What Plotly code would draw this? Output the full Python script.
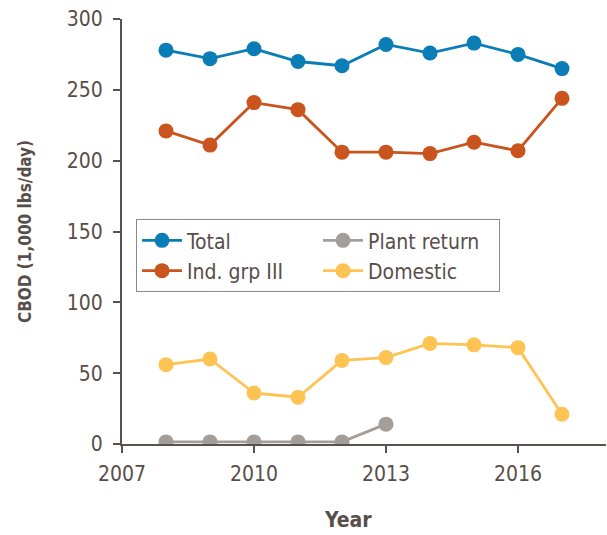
import plotly.graph_objects as go

years = [2008, 2009, 2010, 2011, 2012, 2013, 2014, 2015, 2016, 2017]
total = [278, 272, 279, 270, 267, 282, 276, 283, 275, 265]
ind_grp_iii = [221, 211, 241, 236, 206, 206, 205, 213, 207, 244]
domestic = [56, 60, 36, 33, 59, 61, 71, 70, 68, 21]
plant_years = [2008, 2009, 2010, 2011, 2012, 2013]
plant_return = [1.5, 1.5, 1.5, 1.5, 1.5, 14]

x_ticks = [2007, 2010, 2013, 2016]
y_ticks = [0, 50, 100, 150, 200, 250, 300]

FONT = "DejaVu Sans Condensed, Roboto, Arial, sans-serif"
TEXT = "#584e49"
AXIS = "#5c524d"

series = [
    ("Total", years, total, "#0a7db6", 1),
    ("Plant return", plant_years, plant_return, "#a39e99", 2),
    ("Ind. grp III", years, ind_grp_iii, "#c9541e", 3),
    ("Domestic", years, domestic, "#fdc453", 4),
]

fig = go.Figure()
for name, xs, ys, color, rank in series:
    fig.add_trace(go.Scatter(
        x=xs, y=ys, name=name, mode="lines+markers",
        line=dict(color=color, width=2.8),
        marker=dict(color=color, size=15),
        legendrank=rank,
    ))

fig.update_layout(
    width=607, height=535,
    margin=dict(l=122, r=1, t=19, b=91),
    paper_bgcolor="white", plot_bgcolor="white",
    font=dict(family=FONT, color=TEXT, size=20),
    showlegend=True,
    legend=dict(
        orientation="h", x=0.029, y=0.529, xanchor="left", yanchor="top",
        bordercolor="#8f8985", borderwidth=1, bgcolor="white",
        font=dict(size=21, color=TEXT),
        entrywidth=126, entrywidthmode="pixels",
        tracegroupgap=0, itemwidth=40,
    ),
    xaxis=dict(
        range=[2007, 2018], tickvals=x_ticks, ticktext=[str(v) for v in x_ticks],
        showgrid=False, zeroline=False, showline=True, linecolor=AXIS, linewidth=2,
        ticks="outside", ticklen=7, tickwidth=2, tickcolor=AXIS,
        tickfont=dict(size=21, color=TEXT), ticklabelstandoff=3,
    ),
    yaxis=dict(
        range=[0, 300], tickvals=y_ticks,
        showgrid=False, zeroline=False, showline=True, linecolor=AXIS, linewidth=2,
        ticks="outside", ticklen=7, tickwidth=2, tickcolor=AXIS,
        tickfont=dict(size=21, color=TEXT), ticklabelstandoff=6,
        title=dict(text="<b>CBOD (1,000 lbs/day)</b>", font=dict(size=17, color=TEXT), standoff=31),
    ),
    annotations=[dict(
        text="<b>Year</b>", xref="paper", yref="paper", x=0.466, y=-0.179,
        xanchor="center", yanchor="middle", showarrow=False,
        font=dict(size=21, color=TEXT),
    )],
)

fig.write_html("out.html")
